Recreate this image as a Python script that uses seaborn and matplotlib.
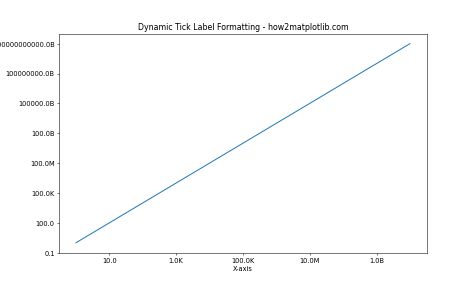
import numpy as np
import pandas as pd
import matplotlib
matplotlib.use("Agg")
import matplotlib.pyplot as plt
import seaborn as sns
from matplotlib.ticker import FuncFormatter

# data: y = x^2 on a log-log scale
x_values = [1e0, 1e1, 1e2, 1e3, 1e4, 1e5, 1e6, 1e7, 1e8, 1e9, 1e10]
y_values = [1e0, 1e2, 1e4, 1e6, 1e8, 1e10, 1e12, 1e14, 1e16, 1e18, 1e20]
x_ticks = [1e1, 1e3, 1e5, 1e7, 1e9]
y_ticks = [1e-1, 1e2, 1e5, 1e8, 1e11, 1e14, 1e17, 1e20]

title = "Dynamic Tick Label Formatting - how2matplotlib.com"
x_label = "X-axis"


def fmt(v, pos):
    if v >= 1e9:
        return f"{v/1e9:.1f}B"
    if v >= 1e6:
        return f"{v/1e6:.1f}M"
    if v >= 1e3:
        return f"{v/1e3:.1f}K"
    return f"{v:.1f}"


df = pd.DataFrame({"x": x_values, "y": y_values})

fig, ax = plt.subplots(figsize=(10, 6), dpi=47.4)
sns.lineplot(data=df, x="x", y="y", ax=ax, color="#1f77b4", linewidth=1.5)
ax.set_xscale("log")
ax.set_yscale("log")
ax.set_xticks(x_ticks)
ax.set_yticks(y_ticks)
ax.minorticks_off()
ax.xaxis.set_major_formatter(FuncFormatter(fmt))
ax.yaxis.set_major_formatter(FuncFormatter(fmt))
ax.set_xlim(10 ** -0.5, 10 ** 10.5)
ax.set_ylim(1e-1, 1e21)
ax.set_title(title)
ax.set_xlabel(x_label)
ax.set_ylabel("")
fig.savefig("out.png", dpi=47.4)
